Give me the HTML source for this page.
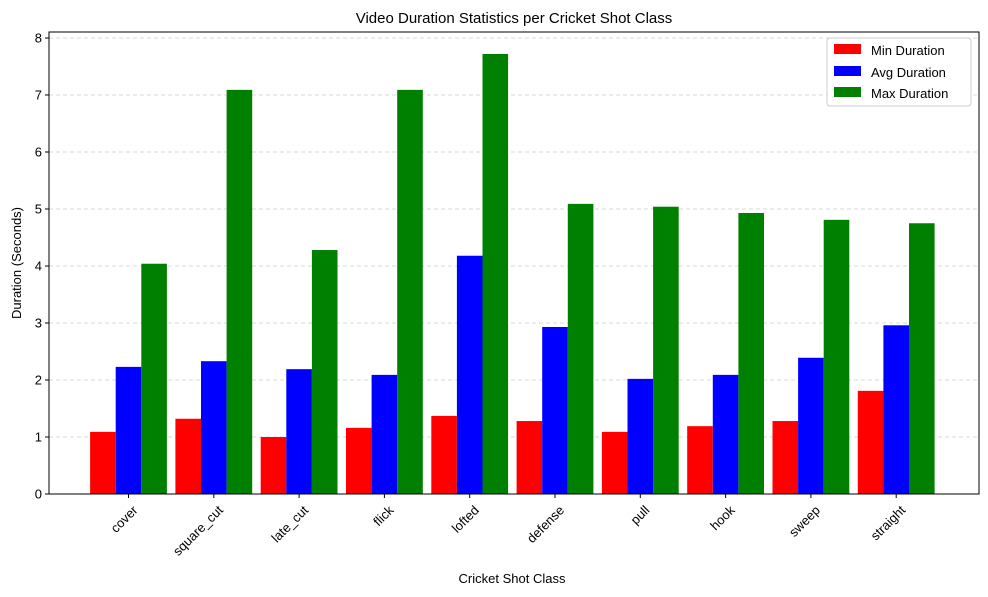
<!DOCTYPE html>
<html><head><meta charset="utf-8"><style>
body{margin:0;background:#fff;}
svg{display:block;font-family:"Liberation Sans","DejaVu Sans",sans-serif;}
</style></head><body>
<svg id="chart" width="988" height="597">
<text x="514" y="23" font-size="15" text-anchor="middle">Video Duration Statistics per Cricket Shot Class</text>
<g id="grid"></g><g id="bars"></g><g id="axes"></g>
<text x="512" y="583" font-size="13" text-anchor="middle">Cricket Shot Class</text>
<text transform="translate(21,263) rotate(-90)" font-size="13" text-anchor="middle">Duration (Seconds)</text>
<g>
<rect x="827" y="38" width="144" height="68" fill="#fff" stroke="#ccc" rx="3"/>
<rect x="834" y="44" width="27" height="10" fill="red"/>
<text x="871" y="55" font-size="13">Min Duration</text>
<rect x="834" y="66" width="27" height="10" fill="blue"/>
<text x="871" y="77" font-size="13">Avg Duration</text>
<rect x="834" y="87" width="27" height="10" fill="green"/>
<text x="871" y="98" font-size="13">Max Duration</text>
</g>
</svg>
<script>
const categories=["cover","square_cut","late_cut","flick","lofted","defense","pull","hook","sweep","straight"];
const minVals=[1.09,1.32,1.0,1.16,1.37,1.28,1.09,1.19,1.28,1.81];
const avgVals=[2.23,2.33,2.19,2.09,4.18,2.93,2.02,2.09,2.39,2.96];
const maxVals=[4.04,7.09,4.28,7.09,7.72,5.09,5.04,4.93,4.81,4.75];
const yTicks=[0,1,2,3,4,5,6,7,8];
const NS="http://www.w3.org/2000/svg";
const L=49,R=979,T=32,B=494;
const y=v=>B-v*57;
const xc=i=>128.5+i*85.3;
const bw=25.6;
function mk(tag,attrs,parent){const e=document.createElementNS(NS,tag);for(const k in attrs)e.setAttribute(k,attrs[k]);parent.appendChild(e);return e;}
const grid=document.getElementById('grid'),bars=document.getElementById('bars'),axes=document.getElementById('axes');
yTicks.forEach(t=>{
 const g=mk('line',{x1:L,x2:R,y1:y(t),y2:y(t),stroke:'#ccc','stroke-dasharray':'4,3','stroke-width':0.8},grid);
 
 
 const tk=mk('line',{x1:L-4,x2:L,y1:y(t),y2:y(t),stroke:'#000'},axes);
 
 
 const tx=mk('text',{x:L-7,y:y(t)+4.5,'font-size':13,'text-anchor':'end'},axes);
 tx.textContent=t;
 
 
});
const series=[[minVals,'red','min',-1],[avgVals,'blue','avg',0],[maxVals,'green','max',1]];
categories.forEach((c,i)=>{
 series.forEach(([vals,col,nm,off])=>{
  const r=mk('rect',{x:xc(i)+off*bw-bw/2,y:y(vals[i]),width:bw,height:B-y(vals[i]),fill:col},bars);
  
  
 });
 const tk=mk('line',{x1:xc(i),x2:xc(i),y1:B,y2:B+4,stroke:'#000'},axes);
 
 
 const tx=mk('text',{transform:`translate(${xc(i)+10},${B+17}) rotate(-45)`,'font-size':13,'text-anchor':'end'},axes);
 tx.textContent=c;
 
 
});
const fr=mk('rect',{x:L,y:T,width:R-L,height:B-T,fill:'none',stroke:'#000','stroke-width':1},axes);


</script>
</body></html>
